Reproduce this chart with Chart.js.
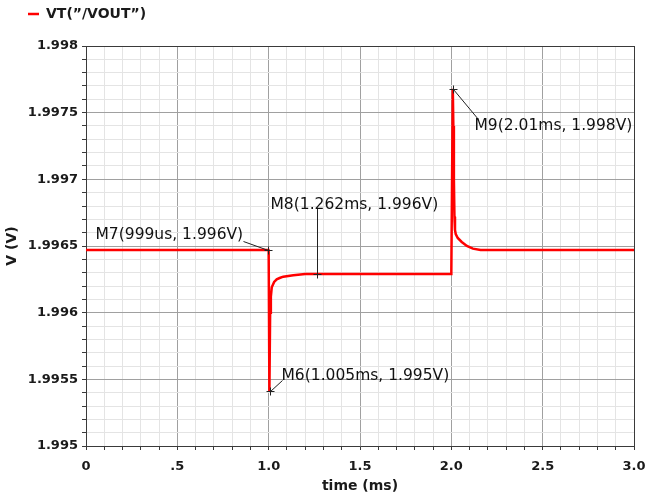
<!DOCTYPE html>
<html>
<head>
<meta charset="utf-8">
<script src="https://cdn.jsdelivr.net/npm/chart.js@4.4.1/dist/chart.umd.min.js"></script>
<style>
html,body{margin:0;padding:0;background:#ffffff;}
#wrap{width:646px;height:495px;}
</style>
</head>
<body>
<div id="wrap"><canvas id="c" width="646" height="495"></canvas></div>
<script>
// ---------- data ----------
const seriesName = 'VT(\u201D/VOUT\u201D)';
const xTitle = 'time (ms)';
const yTitle = 'V (V)';

const times = [0, 0.999, 1.000, 1.004, 1.008, 1.012, 1.017, 1.030, 1.044, 1.060, 1.080, 1.135, 1.200, 1.262, 1.999,
               2.000, 2.008, 2.011, 2.014, 2.017, 2.020, 2.024, 2.035, 2.057, 2.085, 2.118, 2.160, 2.200, 3.000];
const volts = [1.99647, 1.99647, 1.99646, 1.99541, 1.99600, 1.99612, 1.99619, 1.99623, 1.99625, 1.99626, 1.99627, 1.99628, 1.99629, 1.99629, 1.99629,
               1.99631, 1.99768, 1.99740, 1.99700, 1.99672, 1.99662, 1.99659, 1.99656, 1.99653, 1.99650, 1.99648, 1.99647, 1.99647, 1.99647];

const xTickLabels = ['0', '.5', '1.0', '1.5', '2.0', '2.5', '3.0'];
const yTickLabels = ['1.995', '1.9955', '1.996', '1.9965', '1.997', '1.9975', '1.998'];

const markerLabels = ['M7(999us, 1.996V)', 'M8(1.262ms, 1.996V)', 'M6(1.005ms, 1.995V)', 'M9(2.01ms, 1.998V)'];
const markerTimes  = [0.999, 1.262, 1.005, 2.01];
const markerVolts  = [1.99647, 1.99629, 1.99541, 1.99768];

// ---------- styling ----------
const FONT = "'DejaVu Sans', Verdana, sans-serif";
const X_MIN = 0, X_MAX = 3, X_STEP = 0.1;
const Y_MIN = 1.995, Y_MAX = 1.998, Y_STEP = 0.0001;
const MAJOR = '#a0a0a0', MINOR = '#e4e4e4', FRAME = '#3a3a3a';

// label placement for each marker: text anchor offset + leader end offset (pixels)
const markerLayout = [
  { tx: -173, ty: -16, lx: -25, ly: -9 },
  { tx: -47,  ty: -70, lx: 0,   ly: -66 },
  { tx: 11,   ty: -16, lx: 12,  ly: -11 },
  { tx: 21,   ty: 36,  lx: 25,  ly: 30 }
];

const markerPlugin = {
  id: 'markers',
  afterDatasetsDraw(chart) {
    const ctx = chart.ctx;
    const xs = chart.scales.x, ys = chart.scales.y;
    ctx.save();
    ctx.strokeStyle = '#222';
    ctx.fillStyle = '#111';
    ctx.lineWidth = 1;
    ctx.font = "15.5px " + FONT;
    ctx.textBaseline = 'middle';
    ctx.textAlign = 'left';
    markerLabels.forEach((lab, i) => {
      const mx = Math.round(xs.getPixelForValue(markerTimes[i])) + 0.5;
      const my = Math.round(ys.getPixelForValue(markerVolts[i])) + 0.5;
      const L = markerLayout[i];
      ctx.beginPath();
      ctx.moveTo(mx - 4, my); ctx.lineTo(mx + 4, my);
      ctx.moveTo(mx, my - 4); ctx.lineTo(mx, my + 4);
      ctx.stroke();
      ctx.beginPath();
      ctx.moveTo(mx, my);
      ctx.lineTo(mx + L.lx, my + L.ly);
      ctx.stroke();
      ctx.fillText(lab, mx + L.tx, my + L.ty);
    });
    ctx.restore();
  }
};

const gridColor = (ctx, max) => {
  const v = ctx.tick ? ctx.tick.value : 0;
  if (Math.abs(v - max) < 1e-9) return FRAME;
  return ctx.tick && ctx.tick.major5 ? MAJOR : MINOR;
};

new Chart(document.getElementById('c'), {
  type: 'line',
  data: {
    datasets: [{
      label: seriesName,
      data: times.map((t, i) => ({ x: t, y: volts[i] })),
      borderColor: '#ff0000',
      backgroundColor: '#ff0000',
      borderWidth: 2.5,
      pointRadius: 0,
      tension: 0,
      fill: false
    }]
  },
  options: {
    responsive: false,
    animation: false,
    devicePixelRatio: 1,
    layout: { padding: { left: 21, right: 12, top: 0, bottom: 0 } },
    plugins: {
      legend: {
        display: true,
        position: 'top',
        align: 'start',
        labels: {
          usePointStyle: true,
          pointStyle: 'line',
          pointStyleWidth: 11,
          padding: 7,
          color: '#1a1a1a',
          font: { family: FONT, size: 14, weight: 'bold' }
        }
      },
      title: {
        display: true,
        text: '',
        weight: 500,
        padding: { top: 0, bottom: 3 },
        font: { size: 10 }
      },
      tooltip: { enabled: false }
    },
    scales: {
      x: {
        type: 'linear',
        min: X_MIN, max: X_MAX,
        afterFit: (s) => { s.height = 49; s.paddingRight = 0; s.paddingLeft = 0; },
        afterBuildTicks: (s) => { s.ticks.forEach(t => { const k = Math.round(t.value / X_STEP); t.major5 = (k % 5 === 0); }); },
        ticks: {
          stepSize: X_STEP,
          autoSkip: false,
          maxRotation: 0,
          padding: 9,
          color: '#1a1a1a',
          font: { family: FONT, size: 13, weight: 'bold' },
          callback: (v) => { const k = Math.round(v / X_STEP); return (k % 5 === 0) ? xTickLabels[k / 5] : ''; }
        },
        grid: {
          color: (c) => gridColor(c, X_MAX),
          lineWidth: 1,
          tickLength: 4,
          tickColor: FRAME,
          drawTicks: true
        },
        border: { display: true, color: FRAME, width: 1 },
        title: {
          display: true,
          text: xTitle,
          color: '#1a1a1a',
          padding: { top: 0, bottom: 0 },
          font: { family: FONT, size: 14, weight: 'bold' }
        }
      },
      y: {
        type: 'linear',
        min: Y_MIN, max: Y_MAX,
        afterFit: (s) => { s.width = 65; },
        afterBuildTicks: (s) => { s.ticks.forEach(t => { const k = Math.round((t.value - Y_MIN) / Y_STEP); t.major5 = (k % 5 === 0); }); },
        ticks: {
          stepSize: Y_STEP,
          autoSkip: false,
          padding: 4,
          color: '#1a1a1a',
          font: { family: FONT, size: 13, weight: 'bold' },
          callback: (v) => { const k = Math.round((v - Y_MIN) / Y_STEP); return (k % 5 === 0) ? yTickLabels[k / 5] : ''; }
        },
        grid: {
          color: (c) => gridColor(c, Y_MAX),
          lineWidth: 1,
          tickLength: 4,
          tickColor: FRAME,
          drawTicks: true
        },
        border: { display: true, color: FRAME, width: 1 },
        title: {
          display: true,
          text: yTitle,
          color: '#1a1a1a',
          padding: { top: -17, bottom: 0 },
          font: { family: FONT, size: 14, weight: 'bold' }
        }
      }
    }
  },
  plugins: [markerPlugin]
});
</script>
</body>
</html>
